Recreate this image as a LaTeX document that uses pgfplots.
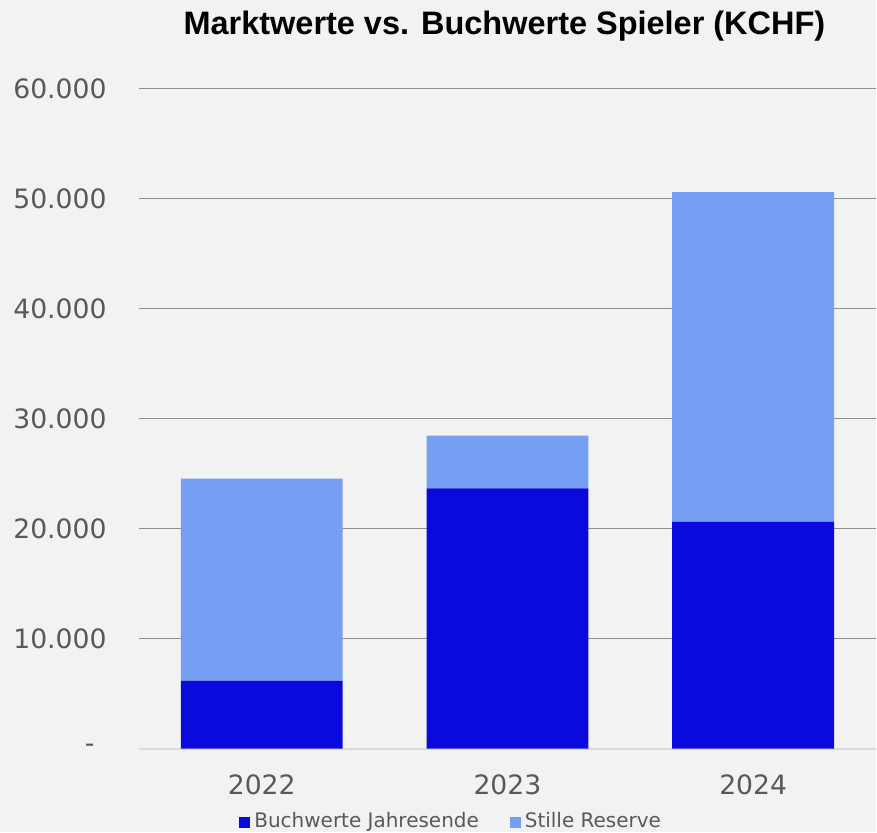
\documentclass[border=0pt]{standalone}
\usepackage{pgfplots}
\pgfplotsset{compat=1.18}
\usepackage{fontspec}
\setmainfont{DejaVu Sans}
\newfontfamily\titlefont{Liberation Sans}
\definecolor{bg}{HTML}{F2F2F2}
\definecolor{dunkel}{HTML}{0A0ADC}
\definecolor{hell}{HTML}{769EF2}
\definecolor{txt}{HTML}{595959}
\definecolor{gridc}{HTML}{8F8F8F}
\definecolor{nullc}{HTML}{D9D9D9}
\begin{document}
\begin{tikzpicture}
\fill[bg] (0,0) rectangle (263.1pt,249.9pt);
\begin{axis}[
at={(41.7pt,25.05pt)}, anchor=south west,
scale only axis,
width=221.4pt, height=198.2pt,
ybar stacked,
bar width=48.6pt,
xmin=-0.5, xmax=2.5,
ymin=0, ymax=60000,
scaled y ticks=false,
xtick={0,1,2},
xticklabels={2022,2023,2024},
ytick={10000,20000,30000,40000,50000,60000},
yticklabels={10.000,20.000,30.000,40.000,50.000,60.000},
extra y ticks={0},
extra y tick labels={-\hspace*{3.6pt}},
extra y tick style={major grid style={color=nullc, line width=0.6pt}},
ymajorgrids,
major grid style={color=gridc, line width=0.45pt},
axis line style={draw=none},
tick style={draw=none},
ticklabel style={font=\fontsize{8}{9}\selectfont, text=txt},
yticklabel style={anchor=east, inner sep=0pt, xshift=-9.5pt},
xticklabel style={anchor=north, inner sep=0pt, yshift=-7.5pt},
clip=false,
legend columns=2,
legend style={at={(0.1355,-0.1123)}, anchor=west, draw=none, fill=none,
  inner sep=0pt, font=\fontsize{6}{7}\selectfont, text=txt,
  nodes={inner sep=0pt},
  /tikz/every odd column/.append style={column sep=1.2pt},
  /tikz/every even column/.append style={column sep=9.3pt}},
legend image code/.code={\fill[#1] (0pt,-1.65pt) rectangle (3.3pt,1.65pt);},
]
\addplot[fill=dunkel, draw=none] coordinates {(0,6160) (1,23660) (2,20640)};
\addplot[fill=hell, draw=none] coordinates {(0,18380) (1,4810) (2,29970)};
\legend{Buchwerte Jahresende, Stille Reserve}
\end{axis}
\node[anchor=base, font=\titlefont\bfseries\fontsize{9.75}{12}\selectfont] at (151.5pt,239.4pt) {Marktwerte vs. Buchwerte Spieler (KCHF)};
\end{tikzpicture}
\end{document}
